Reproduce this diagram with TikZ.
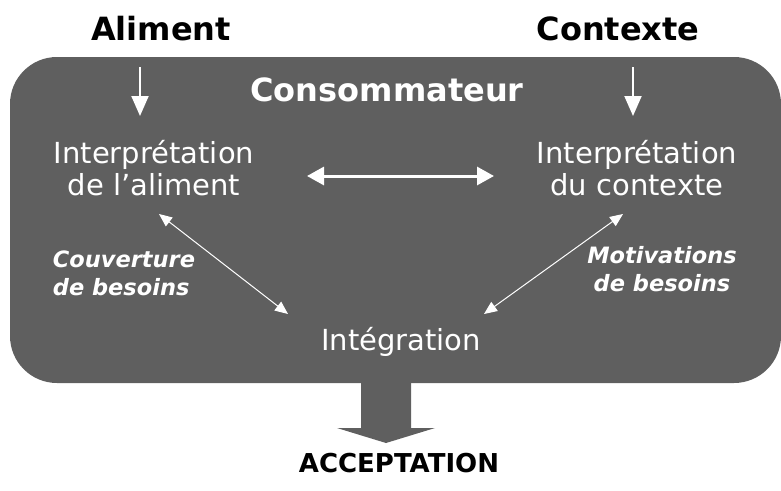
\documentclass[tikz,border=0pt]{standalone}
\usepackage{fontspec}
\setmainfont{DejaVu Sans}
\usetikzlibrary{arrows.meta}
\definecolor{boxgray}{HTML}{5F5F5F}
\begin{document}
\begin{tikzpicture}[x=1pt,y=-1pt,
  title/.style={font=\fontsize{32}{36}\selectfont\bfseries, anchor=base, inner sep=0pt},
  interp/.style={font=\fontsize{29}{32}\selectfont, text=white, align=center, anchor=base, inner sep=0pt},
  lab/.style={font=\fontsize{22.5}{28}\selectfont\bfseries\itshape, text=white, anchor=base, inner sep=0pt},
  varrow/.style={white, line width=2pt, -{Triangle[length=20pt,width=17pt]}},
  harrow/.style={white, line width=3pt, {Triangle[length=17pt,width=18pt]}-{Triangle[length=17pt,width=18pt]}},
  darrow/.style={white, line width=1pt, {Triangle[length=13pt,width=11pt]}-{Triangle[length=13pt,width=11pt]}}]
\useasboundingbox (0,0) rectangle (781,490);
% main box
\fill[boxgray, rounded corners=47pt] (10,57) rectangle (781,383);
% big output arrow
\fill[boxgray] (361,383) -- (411,383) -- (411,428) -- (435,428) -- (386,443) -- (337,428) -- (361,428) -- cycle;
% texts
\node[title] (ali) at (161,40) {Aliment};
\node[title] (ctx) at (618,40) {Contexte};
\node[title, text=white] (cons) at (387,101) {Consommateur};
\node[interp] (ia) at (154,195) {Interprétation\\de l’aliment};
\node[interp] (ic) at (637,195) {Interprétation\\du contexte};
\node[interp] (integ) at (401,350) {Intégration};
\node[lab, align=left] (couv) at (124,295) {Couverture\\de besoins};
\node[lab, align=center] (motiv) at (662,291) {Motivations\\de besoins};
\node[font=\fontsize{26}{30}\selectfont\bfseries, anchor=base, inner sep=0pt] (acc) at (399,472) {ACCEPTATION};
% arrow endpoints
\coordinate (a1) at (140,67);
\coordinate (a2) at (140,116);
\coordinate (c1) at (633,67);
\coordinate (c2) at (633,116);
\coordinate (h1) at (307,176);
\coordinate (h2) at (494,176);
\coordinate (l1) at (159,214);
\coordinate (l2) at (288,314);
\coordinate (r1) at (623,214);
\coordinate (r2) at (484,314);
\draw[varrow] (a1) -- (a2);
\draw[varrow] (c1) -- (c2);
\draw[harrow] (h1) -- (h2);
\draw[darrow] (l1) -- (l2);
\draw[darrow] (r1) -- (r2);
\end{tikzpicture}
\end{document}
